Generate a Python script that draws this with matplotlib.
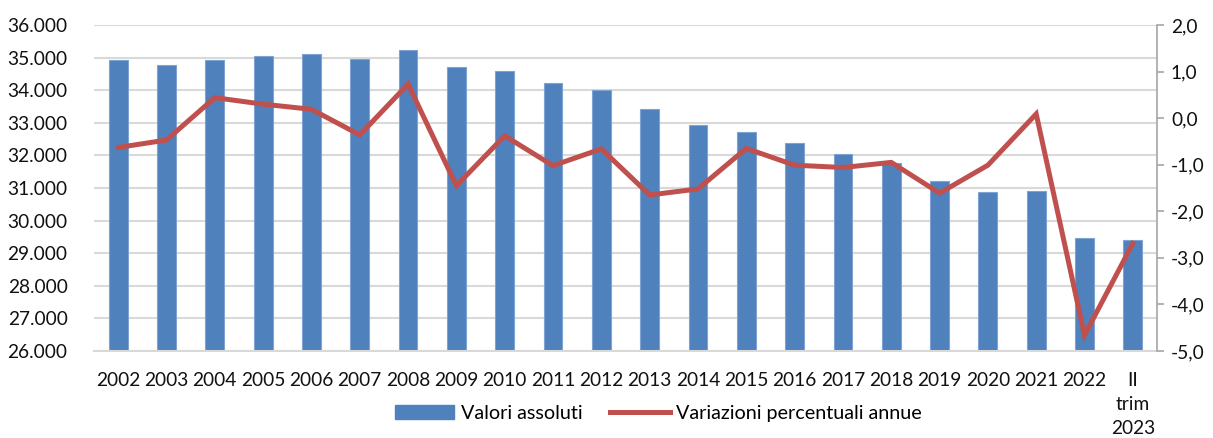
import matplotlib
matplotlib.use("Agg")
import matplotlib.pyplot as plt
from matplotlib.ticker import FuncFormatter
from matplotlib.lines import Line2D
from matplotlib.patches import Patch

categories = ["2002", "2003", "2004", "2005", "2006", "2007", "2008", "2009", "2010", "2011",
              "2012", "2013", "2014", "2015", "2016", "2017", "2018", "2019", "2020", "2021",
              "2022", "II\ntrim\n2023"]
valori_assoluti = [34920, 34770, 34930, 35040, 35100, 34970, 35220, 34710, 34590, 34230,
                   34010, 33430, 32920, 32720, 32380, 32040, 31780, 31210, 30890, 30920,
                   29480, 29410]
variazioni_pct = [-0.63, -0.47, 0.44, 0.30, 0.19, -0.36, 0.73, -1.45, -0.38, -1.02,
                  -0.66, -1.65, -1.52, -0.65, -1.01, -1.06, -0.95, -1.61, -1.01, 0.09,
                  -4.66, -2.69]
label_bar = "Valori assoluti"
label_line = "Variazioni percentuali annue"

FONT = ["Lato", "DejaVu Sans"]
plt.rcParams["font.family"] = FONT
FS = 13.8

BLUE = "#4F81BD"
RED = "#C0504D"
GRID = "#D9D9D9"

fig = plt.figure(figsize=(12.13, 4.38), dpi=100)
ax = fig.add_axes([94 / 1213, 1 - 351 / 438, (1157 - 94) / 1213, (351 - 25) / 438])
x = list(range(len(categories)))

ax.bar(x, valori_assoluti, width=0.39, color=BLUE, edgecolor="#7FA3D3", linewidth=0.8, zorder=2)
ax.set_ylim(26000, 36000)
ax.set_yticks(range(26000, 36001, 1000))
ax.yaxis.set_major_formatter(FuncFormatter(lambda v, p: f"{int(v):,}".replace(",", ".")))
ax.set_xlim(-0.5, len(categories) - 0.5)
ax.set_xticks(x)
ax.set_xticklabels(categories, linespacing=1.5)
ax.grid(axis="y", color=GRID, linewidth=1.5, zorder=0)
ax.set_axisbelow(True)
for s in ["left", "top", "right"]:
    ax.spines[s].set_visible(False)
ax.spines["bottom"].set_color(GRID)
ax.spines["bottom"].set_linewidth(1.5)
ax.tick_params(axis="y", length=0, pad=19, labelsize=FS, labelcolor="#111111")
ax.tick_params(axis="x", length=0, pad=15, labelsize=FS, labelcolor="#111111")

ax2 = ax.twinx()
ax2.plot(x, variazioni_pct, color=RED, linewidth=3.6, solid_joinstyle="miter", zorder=3)
ax2.set_ylim(-5, 2)
ax2.set_yticks(range(-5, 3))
ax2.yaxis.set_major_formatter(FuncFormatter(lambda v, p: f"{v:.1f}".replace(".", ",")))
for s in ["left", "top", "bottom"]:
    ax2.spines[s].set_visible(False)
ax2.spines["right"].set_color("#A6A6A6")
ax2.spines["right"].set_linewidth(1.2)
ax2.tick_params(axis="y", length=5, width=1.2, color="#A6A6A6", pad=5, labelsize=FS,
                labelcolor="#111111")

handles = [Patch(facecolor=BLUE, edgecolor=BLUE), Line2D([0], [0], color=RED, linewidth=3.6)]
fig.legend(handles, [label_bar, label_line], loc="center", bbox_to_anchor=(0.543, 0.057),
           ncol=2, frameon=False, fontsize=14.2, handlelength=3.0, handleheight=0.7,
           columnspacing=1.4, handletextpad=0.35)

fig.savefig("out.png", dpi=100)
